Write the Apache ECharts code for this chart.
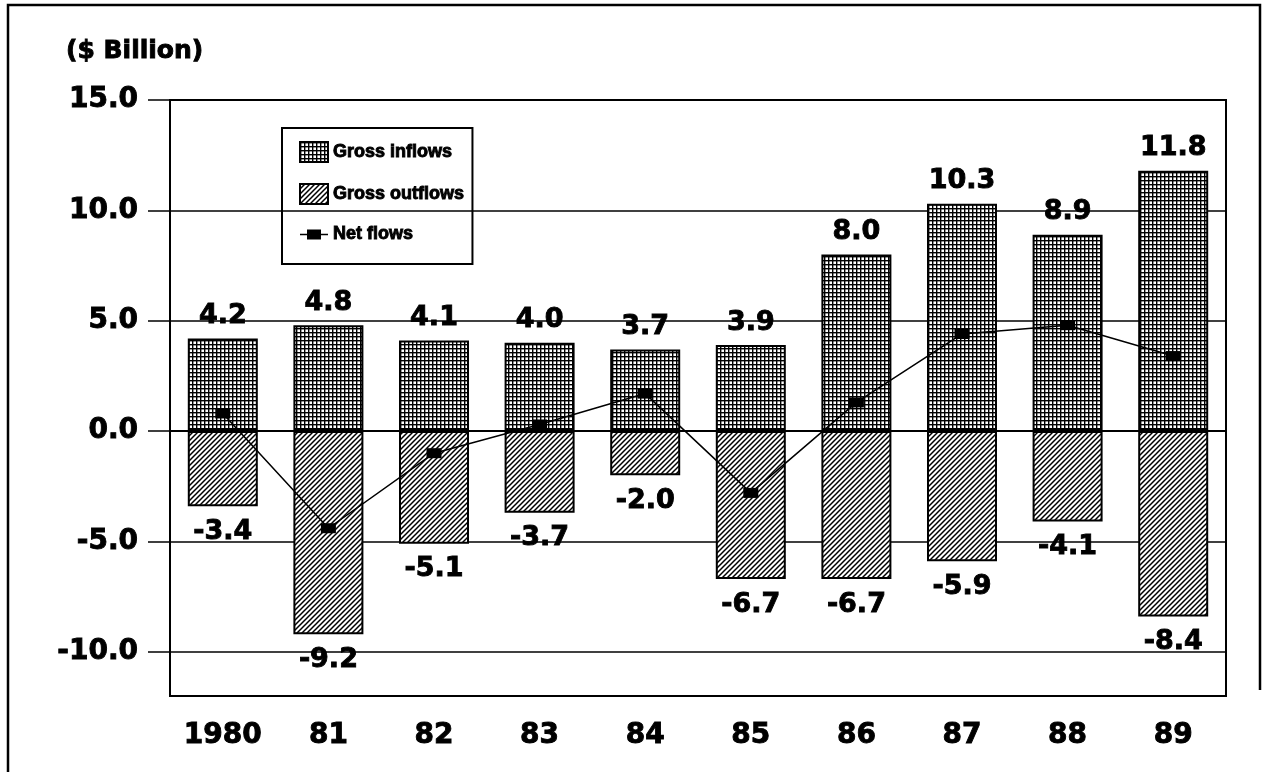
<!DOCTYPE html>
<html>
<head>
<meta charset="utf-8">
<title>Gross and net flows, 1980-89</title>
<script src="https://cdn.jsdelivr.net/npm/echarts@6/dist/echarts.min.js"></script>
<style>
  html, body { margin: 0; padding: 0; background: #fff; }
  #chart { width: 1262px; height: 772px; }
</style>
</head>
<body>
<div id="chart"></div>
<script>
// Years on the category axis
const categories = ['1980', '81', '82', '83', '84', '85', '86', '87', '88', '89'];
// Gross inflows, $ billion
const inflows = [4.2, 4.8, 4.1, 4.0, 3.7, 3.9, 8.0, 10.3, 8.9, 11.8];
// Gross outflows, $ billion
const outflows = [-3.4, -9.2, -5.1, -3.7, -2.0, -6.7, -6.7, -5.9, -4.1, -8.4];
// Net flows, $ billion
const netFlows = [0.8, -4.4, -1.0, 0.3, 1.7, -2.8, 1.3, 4.4, 4.8, 3.4];
// Value-axis ticks
const yTicks = [-10, -5, 0, 5, 10, 15];

const WIDE = '"DejaVu Sans", sans-serif';
const NARROW = '"Liberation Sans", Arial, sans-serif';

// heavy black lettering used for all chart text
const heavy = (size, family) => ({
  fontFamily: family || WIDE, fontWeight: 'bold', fontSize: size, color: '#000',
  textBorderColor: '#000', textBorderWidth: 0.9
});

// Fine square grid fill
function gridPattern() {
  const c = document.createElement('canvas');
  c.width = 4; c.height = 4;
  const g = c.getContext('2d');
  g.fillStyle = '#fff';
  g.fillRect(0, 0, 4, 4);
  g.fillStyle = '#000';
  g.fillRect(0, 0, 4, 1.4);
  g.fillRect(0, 0, 1.4, 4);
  return c;
}

// Diagonal "/" hatching
function hatchPattern() {
  const s = 5;
  const c = document.createElement('canvas');
  c.width = s; c.height = s;
  const g = c.getContext('2d');
  g.fillStyle = '#fff';
  g.fillRect(0, 0, s, s);
  g.strokeStyle = '#000';
  g.lineWidth = 1.5;
  g.beginPath();
  g.moveTo(0, s); g.lineTo(s, 0);
  g.moveTo(-1, 1); g.lineTo(1, -1);
  g.moveTo(s - 1, s + 1); g.lineTo(s + 1, s - 1);
  g.stroke();
  return c;
}

const chart = echarts.init(document.getElementById('chart'), null, { renderer: 'canvas' });

const fmt = v => Number(v).toFixed(1);

chart.setOption({
  backgroundColor: '#fff',
  animation: false,
  title: {
    text: '($ Billion)',
    left: 66,
    top: 39,
    padding: 0,
    textStyle: heavy(25)
  },
  graphic: [
    // outer frame
    { type: 'polyline', silent: true,
      shape: { points: [[8, 800], [8, 5], [1260, 5], [1260, 690]] },
      style: { stroke: '#000', lineWidth: 2.5, fill: null } }
  ],
  legend: {
    orient: 'vertical',
    left: 282,
    top: 128,
    padding: [13, 8, 20, 17],
    itemGap: 20,
    itemWidth: 28,
    itemHeight: 20,
    borderColor: '#000',
    borderWidth: 2,
    backgroundColor: 'transparent',
    textStyle: heavy(18, NARROW),
    data: [
      { name: 'Gross inflows', icon: 'rect' },
      { name: 'Gross outflows', icon: 'rect' },
      { name: 'Net flows',
        icon: 'path://M0,4.3 L28,4.3 L28,5.7 L0,5.7 Z M7,0 L21,0 L21,10 L7,10 Z',
        itemStyle: { borderWidth: 0, color: '#000' } }
    ]
  },
  grid: {
    left: 170, top: 100, width: 1056, height: 596,
    show: true, borderColor: '#000', borderWidth: 2, backgroundColor: 'transparent'
  },
  xAxis: {
    type: 'category',
    data: categories,
    boundaryGap: true,
    axisLine: { show: true, lineStyle: { color: '#000', width: 2 } },
    axisTick: { show: true, alignWithLabel: true, length: 14, lineStyle: { color: '#000', width: 2 } },
    axisLabel: Object.assign({ margin: 26 }, heavy(28)),
    splitLine: { show: false }
  },
  yAxis: {
    type: 'value',
    min: -12,
    max: 15,
    axisLine: { show: true, onZero: false, lineStyle: { color: '#000', width: 2 } },
    axisTick: { show: true, length: 22, customValues: yTicks, lineStyle: { color: '#000', width: 1.5 } },
    axisLabel: Object.assign({ customValues: yTicks, formatter: fmt, margin: 32 }, heavy(28)),
    splitLine: { show: true, lineStyle: { color: '#000', width: 1.5 } }
  },
  series: [
    {
      name: 'Gross inflows',
      type: 'bar',
      data: inflows,
      barWidth: 70,
      barGap: '-100%',
      itemStyle: { color: { image: gridPattern(), repeat: 'repeat' }, borderColor: '#000', borderWidth: 2 },
      label: Object.assign({ show: true, position: 'top', distance: 9, formatter: p => fmt(p.value) }, heavy(27)),
      z: 2
    },
    {
      name: 'Gross outflows',
      type: 'bar',
      data: outflows,
      barWidth: 70,
      barGap: '-100%',
      itemStyle: { color: { image: hatchPattern(), repeat: 'repeat' }, borderColor: '#000', borderWidth: 2 },
      label: Object.assign({ show: true, position: 'bottom', distance: 12, formatter: p => fmt(p.value) }, heavy(27)),
      z: 2
    },
    {
      name: 'Net flows',
      type: 'line',
      data: netFlows,
      symbol: 'rect',
      symbolSize: [15, 10],
      showAllSymbol: true,
      lineStyle: { color: '#000', width: 1.5 },
      itemStyle: { color: '#000', borderWidth: 0 },
      z: 5
    }
  ]
});
</script>
</body>
</html>
